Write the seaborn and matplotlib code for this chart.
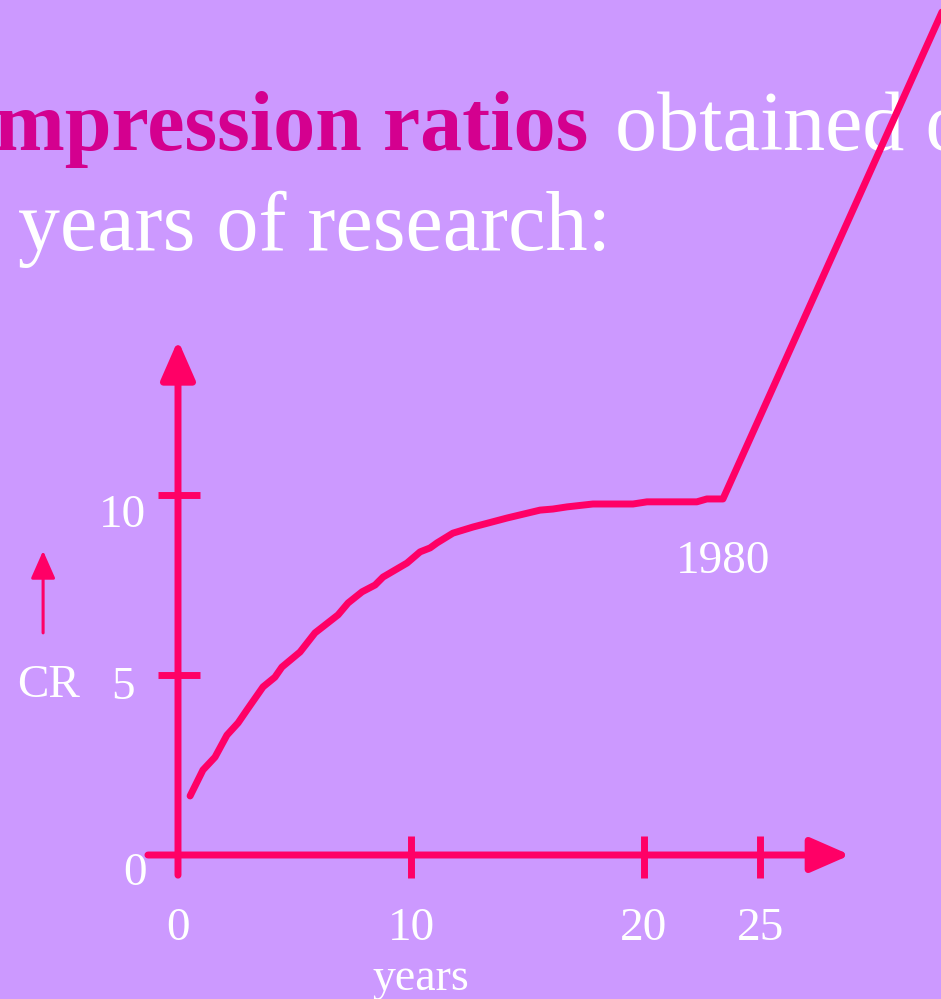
import numpy as np
import pandas as pd
import matplotlib.pyplot as plt
import seaborn as sns

# ---------- Data ----------
# years since start of research vs. compression ratio (CR)
years = [0.52, 1.07, 1.59, 2.10, 2.58, 2.96, 3.65, 4.16, 4.46, 5.24, 5.88,
         6.87, 7.30, 7.90, 8.46, 8.80, 9.83, 10.39, 10.82, 11.12, 11.80,
         12.66, 14.12, 15.54, 16.09, 16.70, 17.81, 19.53, 20.13, 22.27,
         22.70, 23.39, 32.83]
cr = [1.64, 2.36, 2.72, 3.33, 3.67, 4.03, 4.67, 4.94, 5.22, 5.64, 6.17,
      6.67, 7.00, 7.31, 7.50, 7.72, 8.11, 8.42, 8.53, 8.67, 8.94,
      9.11, 9.36, 9.58, 9.61, 9.67, 9.75, 9.75, 9.81, 9.81,
      9.89, 9.89, 23.47]

x_ticks = [0, 10, 20, 25]
x_tick_labels = ["0", "10", "20", "25"]
y_ticks = [0, 5, 10]
y_tick_labels = ["0", "5", "10"]
milestone_label = "1980"

BG = "#CC99FF"
PINK = "#FF0066"
TITLE_PINK = "#D4008F"

# ---------- Style ----------
sns.set_theme(style="white")
plt.rcParams["font.family"] = ["Liberation Serif", "DejaVu Serif"]

fig = plt.figure(figsize=(9.41, 9.99), dpi=100, facecolor=BG)
ax = fig.add_axes([0, 0, 1, 1])
ax.set_facecolor(BG)

# ---------- Curve ----------
df = pd.DataFrame({"years": years, "CR": cr})
sns.lineplot(data=df, x="years", y="CR", ax=ax, color=PINK, lw=5,
             zorder=4, solid_joinstyle="round")
ax.annotate("", xy=(years[-1], cr[-1]), xytext=(years[-2], cr[-2]),
            arrowprops=dict(arrowstyle="-|>,head_length=20,head_width=9",
                            mutation_scale=1, color=PINK, lw=5,
                            shrinkA=0, shrinkB=0), zorder=4)

# ---------- Hand-drawn axes ----------
axis_arrow = dict(arrowstyle="-|>,head_length=24,head_width=10.5",
                  mutation_scale=1, color=PINK, lw=5, shrinkA=0, shrinkB=0)
ax.annotate("", xy=(0, 14.3), xytext=(0, -0.56), arrowprops=axis_arrow, zorder=3)
ax.annotate("", xy=(28.85, 0), xytext=(-1.29, 0), arrowprops=axis_arrow, zorder=3)

for t in y_ticks[1:]:
    ax.plot([-0.86, 0.94], [t, t], color=PINK, lw=5, solid_capstyle="butt", zorder=3)
for t in x_ticks[1:]:
    ax.plot([t, t], [-0.64, 0.53], color=PINK, lw=5, solid_capstyle="butt", zorder=3)

# tick labels
for t, lab in zip(x_ticks, x_tick_labels):
    ax.text(t, -2.36, lab, ha="center", va="baseline", fontsize=34, color="white")
y_label_x = [-1.33, -1.85, -1.37]
y_label_dy = [-0.83, -0.67, -0.9]
for t, lab, lx, dy in zip(y_ticks, y_tick_labels, y_label_x, y_label_dy):
    ax.text(lx, t + dy, lab, ha="right", va="baseline", fontsize=34, color="white")

ax.text(10.43, -3.75, "years", ha="center", va="baseline", fontsize=33, color="white")
ax.text(-6.91, 4.39, "CR", ha="left", va="baseline", fontsize=34, color="white")
ax.annotate("", xy=(-5.79, 8.45), xytext=(-5.79, 6.17),
            arrowprops=dict(arrowstyle="-|>,head_length=17,head_width=7.5",
                            mutation_scale=1, color=PINK, lw=2.2,
                            shrinkA=0, shrinkB=0))
ax.text(years[-2], 7.83, milestone_label, ha="center", va="baseline",
        fontsize=34, color="white")

# ---------- Slide title (cut off at the edges like the original) ----------
ax.text(588 / 941, 1 - 150 / 999, "Compression ratios", transform=ax.transAxes,
        ha="right", va="baseline", fontsize=60.5, fontweight="bold",
        color=TITLE_PINK, zorder=1)
ax.text(615 / 941, 1 - 150 / 999, "obtained over", transform=ax.transAxes,
        ha="left", va="baseline", fontsize=60.5, color="white", zorder=1)
ax.text(18 / 941, 1 - 250 / 999, "years of research:", transform=ax.transAxes,
        ha="left", va="baseline", fontsize=60.5, color="white", zorder=1)

ax.set_xlim(-7.64, 32.75)
ax.set_ylim(-4.0, 23.75)
ax.axis("off")

fig.savefig("out.png", dpi=100, facecolor=BG)
